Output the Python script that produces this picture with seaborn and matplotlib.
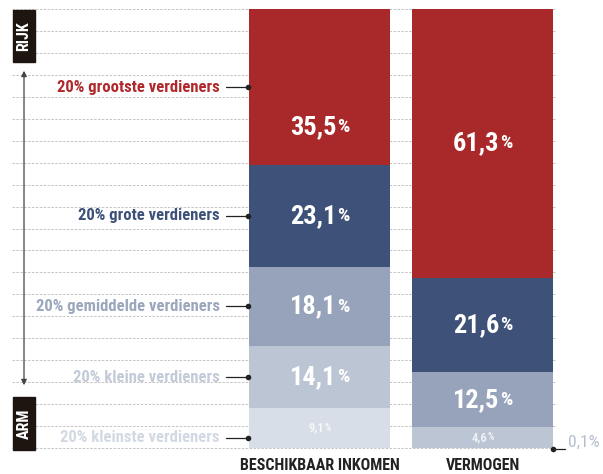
import numpy as np
import pandas as pd
import matplotlib
matplotlib.use('Agg')
import matplotlib.pyplot as plt
import seaborn as sns
from matplotlib import font_manager

# data: share per quintile, bottom (poorest) to top (richest)
groups = ['BESCHIKBAAR INKOMEN', 'VERMOGEN']
quintiles = ['20% kleinste verdieners', '20% kleine verdieners',
             '20% gemiddelde verdieners', '20% grote verdieners',
             '20% grootste verdieners']
inkomen = [9.1, 14.1, 18.1, 23.1, 35.5]
vermogen = [0.1, 4.6, 12.5, 21.6, 61.3]
colors = ['#d8dee8', '#bcc5d4', '#97a3ba', '#3e5279', '#a9282a']
label_colors = ['#d3d9e3', '#c3cad8', '#9ba7bd', '#3e5279', '#b0282c']

sns.set_theme(style='white')
names = {f.name for f in font_manager.fontManager.ttflist}
cands = ['Roboto Condensed', 'Fira Sans Condensed', 'Barlow Condensed',
         'PT Sans Narrow', 'Liberation Sans Narrow', 'DejaVu Sans']
narrow = next(c for c in cands if c in names or c == 'DejaVu Sans')
plt.rcParams['font.family'] = [narrow, 'DejaVu Sans']

rows = []
for g, vals in zip(groups, [inkomen, vermogen]):
    cum = np.cumsum(vals)
    for q, v, c in zip(quintiles, vals, cum):
        rows.append({'groep': g, 'kwintiel': q, 'aandeel': v, 'top': c})
df = pd.DataFrame(rows)

fig = plt.figure(figsize=(6.03, 4.74), dpi=100)
ax = fig.add_axes([0, 0, 1, 1])

# pixel helpers (603 x 474 canvas)
PX0, PXS = 319.5, 163.0
def px(x):
    return (x - PX0) / PXS
PY0, PYS = 448.0, 4.39
def py(y):
    return (PY0 - y) / PYS

# dashed grid every 5%
for g in range(0, 101, 5):
    ax.plot([px(12), px(556)], [g, g], ls=(0, (2.5, 1.5)), lw=0.7,
            color='#c4c4c4', zorder=0)

# stacked bars: draw cumulative tops from richest down
for q, c in zip(quintiles[::-1], colors[::-1]):
    sub = df[df['kwintiel'] == q]
    sns.barplot(data=sub, x='groep', y='top', order=groups, color=c,
                width=0.87, linewidth=0, saturation=1, ax=ax, zorder=2)

ax.set_xlim(px(0), px(603))
ax.set_ylim(py(474), py(0))
ax.axis('off')

# value labels in the bars
fmt = lambda v: f'{v:.1f}'.replace('.', ',')
nudge = {('BESCHIKBAAR INKOMEN', 4): -9}
pairs = []
for gi, (g, vals) in enumerate(zip(groups, [inkomen, vermogen])):
    cum = np.cumsum(vals)
    for i, v in enumerate(vals):
        if v < 1:
            continue
        mid = cum[i] - v / 2 + nudge.get((g, i), 0)
        small = v < 10
        fs_n, fs_p = (9, 7) if small else (19, 14)
        alpha = 0.75 if small else 1
        t = ax.text(gi, mid, fmt(v), ha='left', va='center', color='white',
                    fontsize=fs_n, fontweight='bold', alpha=alpha, zorder=5)
        p = ax.annotate('%', xy=(1, 0.12), xycoords=t, xytext=(0.3, 0),
                        textcoords='offset points', ha='left', va='bottom',
                        color='white', fontsize=fs_p, fontweight='bold',
                        alpha=alpha, zorder=5)
        pairs.append((gi, t, p))

# centre each number + % pair on its bar
fig.canvas.draw()
r = fig.canvas.get_renderer()
for gi, t, p in pairs:
    b1 = t.get_window_extent(r)
    b2 = p.get_window_extent(r)
    cx = ax.transData.transform((gi, 0))[0]
    shift = cx - (b1.x0 + b2.x1) / 2
    t.set_x(gi + shift / PXS)

# left-side quintile labels with leader lines
cum_ink = np.cumsum(inkomen)
for i, (q, lc) in enumerate(zip(quintiles, label_colors)):
    y = cum_ink[i] - inkomen[i] / 2
    if i == 0:
        y = py(438)
    ax.text(px(220), y, q, ha='right', va='center', color=lc, fontsize=12,
            fontweight='bold', zorder=5)
    ax.plot([px(226), px(248)], [y, y], color='#222222', lw=0.9, zorder=5)
    ax.plot(px(248), y, 'o', color='#222222', ms=3, zorder=6)

# 0,1% label to the right of the wealth bar
ax.plot([px(553), px(565)], [py(449), py(449)], color='#222222', lw=0.9,
        zorder=5, clip_on=False)
ax.plot(px(553), py(449), 'o', color='#222222', ms=3, zorder=6)
ax.text(px(568), py(442), fmt(vermogen[0]) + '%', ha='left', va='center',
        color='#b4bdce', fontsize=12.5, zorder=5)

# RIJK / ARM boxes and arrow
for label, top, bot in [('RIJK', 10, 62), ('ARM', 397, 450)]:
    ax.add_patch(plt.Rectangle((px(13), py(bot)), px(35) - px(13), py(top) - py(bot),
                               color='#1e1510', zorder=5))
    ax.text(px(24), (py(top) + py(bot)) / 2, label, rotation=90, ha='center',
            va='center', color='white', fontsize=11.5, fontweight='bold', zorder=6)
ax.annotate('', xy=(px(24), py(68)), xytext=(px(24), py(388)),
            arrowprops=dict(arrowstyle='<|-|>', color='#444444', lw=0.9,
                            mutation_scale=8), zorder=5)

# group labels
for gi, g in enumerate(groups):
    ax.text(gi, py(466), g, ha='center', va='center', color='#222222',
            fontsize=11.5, fontweight='bold')

fig.savefig('out.png', dpi=100)
